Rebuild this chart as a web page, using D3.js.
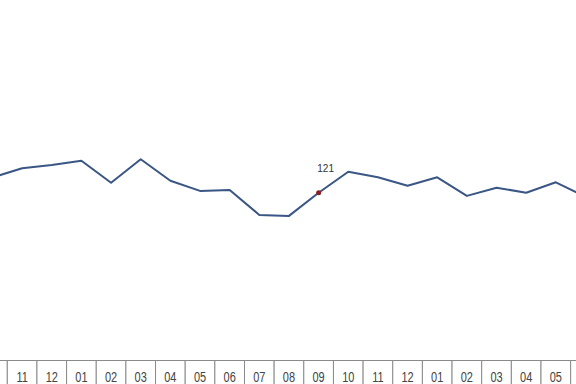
<!DOCTYPE html>
<html>
<head>
<meta charset="utf-8">
<script src="https://cdn.jsdelivr.net/npm/d3@7"></script>
<style>
  body { margin: 0; background: #fff; }
  svg { display: block; }
</style>
</head>
<body>
<svg id="chart" width="576" height="384"></svg>
<script>
// months shown in the bottom strip (the view is a crop of a longer series)
const months = ['10', '11', '12', '01', '02', '03', '04', '05', '06', '07', '08', '09',
  '10', '11', '12', '01', '02', '03', '04', '05', '06']
const values = [128.6, 133.2, 134.9, 137.0, 126.0, 137.7, 127.0, 121.9, 122.4, 109.9, 109.4, 121.0,
  131.5, 128.7, 124.5, 128.7, 119.4, 123.5, 121.0, 126.2, 118.9]
const labelIndex = 11

const width = 576
const height = 384
const data = months.map((m, i) => ({ key: i, month: m, value: values[i] }))

const svg = d3.select('#chart')

const x = d3.scaleBand()
  .domain(data.map(d => d.key))
  .range([-22.35, -22.35 + 29.65 * months.length])
  .padding(0)

const y = d3.scaleLinear()
  .domain([121, 131])
  .range([192.7, 172.7])

const line = d3.line()
  .x(d => x(d.key) + x.bandwidth() / 2)
  .y(d => y(d.value))

svg.append('path')
  .datum(data)
  .attr('fill', 'none')
  .attr('stroke', '#3a5684')
  .attr('stroke-width', 2)
  .attr('stroke-linejoin', 'round')
  .attr('d', line)

// highlighted point with its value
const hl = data[labelIndex]
svg.append('circle')
  .attr('cx', x(hl.key) + x.bandwidth() / 2)
  .attr('cy', y(hl.value))
  .attr('r', 2.5)
  .attr('fill', '#8b1e1e')

svg.append('text')
  .attr('x', x(hl.key) + x.bandwidth() / 2 + 7)
  .attr('y', y(hl.value) - 21)
  .attr('text-anchor', 'middle')
  .attr('font-family', 'Arial, "Liberation Sans", sans-serif')
  .attr('font-size', 10)
  .attr('fill', '#333')
  .text(hl.value)

// month strip
const tableTop = 360.5
const rowH = 28
const cells = svg.append('g')
  .selectAll('g')
  .data(data)
  .enter().append('g')
  .attr('transform', d => `translate(${x(d.key)}, ${tableTop})`)

cells.append('rect')
  .attr('width', x.bandwidth())
  .attr('height', rowH)
  .attr('fill', '#fff')
  .attr('stroke', '#8a8a8a')
  .attr('stroke-width', 1)

cells.append('text')
  .attr('transform', `translate(${x.bandwidth() / 2}, 21) scale(1, 1.3)`)
  .attr('text-anchor', 'middle')
  .attr('font-family', 'Arial, "Liberation Sans", sans-serif')
  .attr('font-size', 11)
  .attr('fill', '#444')
  .text(d => d.month)
</script>
</body>
</html>
